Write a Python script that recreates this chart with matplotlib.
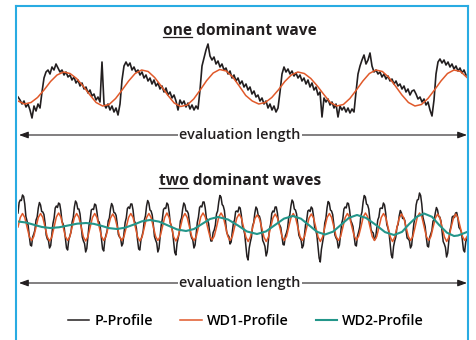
import numpy as np
import matplotlib
matplotlib.use("Agg")
import matplotlib.pyplot as plt
from matplotlib.lines import Line2D

plt.rcParams['font.family'] = ['Open Sans', 'DejaVu Sans']

# evaluation length in mm, heights in um
L = 4.49

# one dominant wave: measured profile and its WD1 fit
top_p = [-8, -11, -15, -12, -18, -15, -21, -29, -17, -22, -15, -19,
         -3, 11, 17, 19, 15, 22, 19, 25, 21, 17, 19, 14, 17, 12, 14, 9, 12, 6,
         9, 3, 6, 0, 2, -4, -1, -7, -5, -11, -8, -13,
         27, -15, -19, -15, -21, -17, -23, -19, -26, -15, 9, 23, 27, 23, 26, 19,
         22, 17, 19, 14, 17, 11, 14, 8, 11, 5, 9, 3, 6, 0, 3, -3, 1, -6, -3, -9,
         -6, -12, -21, -11, -15, -12, -18, -14, -20, -16, -21, -17, -20,
         -1, 23, 31, 39, 45, 33, 29, 32, 25, 28, 22, 25, 19, 21, 15, 18, 11, 14,
         8, 11, 5, 8, 2, 5, -1, 2, -5, -2, -8, -6, -12, -9, -15, -12, -19, -15,
         -21, -17, -23, -19,
         -3, 15, 22, 17, 20, 15, 18, 13, 16, 11, 14, 8, 11, 5, 9, 2, 6, -1, 2, -6,
         -3, -28, -9, -13, -10, -16, -13, -19, -15, -28, -17, -21, -18, -23, -19,
         -24, -20, -23,
         -3, 15, 23, 29, 34, 25, 29, 36, 23, 17, 19, 15, 17, 12, 15, 10, 13, 8, 10,
         5, 8, 3, 5, 0, 3, -3, 0, -6, -2, -1, -5, -10, -8, -13, -10, -16, -13, -21,
         -27, -11,
         15, 27, 30, 26, 29, 24, 27, 22, 25, 20, 23, 18, 21, 16, 19, 14]

top_wd1 = [-12, -15, -13.5, -8.5, -1, 7.5, 14, 17, 15.5, 10.5, 3, -5.5,
           -13.5, -17, -15.5, -9.5, -1, 8, 15.5, 19, 17.5, 11.5, 3, -6,
           -14, -17.5, -16, -10, -1, 8.5, 16, 19.5, 18, 12, 3, -6.5,
           -12, -15, -13.5, -8.5, -1, 7.5, 14, 17, 15.5, 10.5, 3, -5.5,
           -13.5, -17, -15.5, -9.5, -1, 8, 15.5, 19, 17.5, 11.5, 3, -6,
           -13.5, -17, -15.5, -9.5, -1, 8, 15.5, 19, 17.5, 11.5]

# two dominant waves: measured profile, WD1 and WD2 fits
bot_p = [13, 23.5, 26, 25.5, 31, 29.5, 22, 9.5, 5, 0.5, -10, -19, -20, -11, -8, -4,
         6, 9, 18, 23.5, 21, 14.5, 14, 11.5, 3, -9, -13, -14.5, -22, -19.5, -9, 2.5,
         8, 18, 20, 18.5, 23, 22, 15, 4.5, 2, -2, -12, -22, -24, -14, -10, -6,
         4, 8.5, 19, 25, 23, 17, 17, 12, 1, -11, -15, -17.5, -26, -22.5, -11, 1,
         7, 16, 17, 16.5, 22, 21, 14, 5, 4, -1.5, -13, -23, -25, -14, -9, -5,
         5, 8, 17, 22.5, 20, 13.5, 13, 10.5, 2, -8.5, -11, -12.5, -20, -17.5, -7, 3.5,
         8, 17.5, 19, 17.5, 22, 22, 16, 5.5, 3, -2.5, -14, -23, -24, -14, -10, -5,
         6, 10, 20, 25.5, 23, 16, 15, 11, 1, -10.5, -14, -17, -26, -22.5, -11, 1,
         7, 16.5, 18, 17.5, 23, 21.5, 14, 3, 0, -5, -16, -26.5, -29, -17.5, -12, -6.5,
         5, 8, 17, 23, 21, 15, 15, 12.5, 4, -8, -12, -14, -22, -19, -8, 3.5,
         9, 18.5, 20, 19, 24, 24, 18, 8, 6, 2.5, -7, -15, -15, -6.5, -4, 1,
         12, 15, 24, 30.5, 29, 21.5, 20, 15.5, 5, -6, -9, -10.5, -18, -16, -6, 3,
         6, 14.5, 15, 14, 19, 18, 11, 0, -3, -8, -19, -30.5, -34, -22, -16, -11,
         0, 3.5, 13, 19, 17, 10.5, 10, 6, -4, -14.5, -17, -20.5, -30, -26, -14, -3,
         2, 12.5, 15, 14, 19, 19, 13, 3, 1, -1.5, -10, -18.5, -19, -10, -7, -2.5,
         8, 11, 20, 26, 24, 17, 16, 12, 2, -9, -12, -14, -22, -19.5, -9, 1.5,
         6, 15, 16, 14.5, 19, 17.5, 10, -1, -4, -9, -20, -32, -36, -23.5, -17, -10,
         3, 7.5, 18, 24.5, 23, 16, 15, 11.5, 2, -9, -12, -14, -22, -19, -8, 2.5,
         7, 17, 19, 18, 23, 22.5, 16, 5.5, 3, -0.5, -10, -19, -20, -10, -6, -1,
         10, 14, 24, 30.5, 29, 22, 21, 17, 7, -3.5, -6, -7, -14, -12.5, -3, 6,
         9, 17.5, 18, 17.5, 23, 21, 13, 1.5, -2, -7, -18, -29, -32, -20.5, -15, -11,
         -1, 1.5, 10, 15.5, 13, 7.5, 8, 5.5, -3, -12, -13, -14.5, -22, -19.5, -9, 2.5,
         8, 21, 26, 26.5, 33, 30.5, 22, 9, 4, -0.5, -11, -20, -21, -11.5, -8, -4.5,
         5, 6, 13, 18.5, 16, 9.5, 9, 5, -5, -15.5, -18, -21.5, -31, -27, -15, -4.5,
         0, 9, 10, 8.5, 13, 13.5, 8, -1.5, -3, -5.5, -14, -24, -26, -16, -12, -14]

bot_wd1 = [-1, 8.5, 12.5, 8.5, -1, -10.5, -14.5, -10.5,
           -1, 8.5, 12.5, 8.5, -1.5, -11, -15, -11,
           -1, 9, 13, 9, -1, -10.5, -14.5, -10.5,
           -1, 8.5, 12.5, 8.5, -1, -11, -15, -10.5,
           -1, 8.5, 12.5, 8.5, -1, -10.5, -14.5, -10.5,
           -1, 8, 12, 8, -1, -10.5, -14.5, -10.5,
           -1, 8.5, 12.5, 8.5, -1, -11, -15, -11,
           -1, 8.5, 12.5, 8.5, -1, -10.5, -14.5, -10.5,
           -1, 8.5, 13, 8.5, -1, -11, -15, -10.5,
           -1, 8.5, 12.5, 8.5, -1, -10.5, -14.5, -10.5,
           -1, 9, 13, 9, -1, -10, -14, -10,
           -1, 9, 13, 9, -1, -10.5, -14.5, -10.5,
           -1, 8, 12, 8, -1.5, -11, -15.5, -11,
           -1.5, 7.5, 11, 7.5, -1.5, -11, -15.5, -11,
           -1, 8, 12, 8, -1, -10.5, -14.5, -10.5,
           -1, 8.5, 12.5, 8.5, -1, -10.5, -14.5, -10.5,
           -1, 8, 12, 8, -1.5, -11, -15.5, -11,
           -1, 8.5, 12.5, 8.5, -1, -10.5, -14.5, -10.5,
           -1, 8.5, 12.5, 8.5, -1, -10, -14, -10,
           -1, 9, 13, 9, -1, -10.5, -14.5, -10.5,
           -1, 8.5, 12.5, 8.5, -1.5, -11, -15.5, -11,
           -1, 8, 12, 8, -1, -10.5, -14.5, -10.5,
           -1, 9, 13, 9, -1, -10.5, -14.5, -10.5,
           -1, 8, 12, 8, -1.5, -11, -15.5, -11,
           -1, 8, 12, 8, -1, -10.5, -14.5, -10.5]

wd2_x = [0.00, 0.08, 0.16, 0.24, 0.32, 0.41, 0.50, 0.59, 0.68,
         0.76, 0.84, 0.91, 0.99, 1.07, 1.16, 1.24, 1.32,
         1.41, 1.50, 1.59, 1.68, 1.76, 1.84, 1.92, 2.00,
         2.10, 2.20, 2.29, 2.39, 2.48, 2.57, 2.66, 2.75,
         2.83, 2.91, 2.99, 3.07, 3.15, 3.23, 3.31, 3.39,
         3.48, 3.58, 3.67, 3.76, 3.84, 3.91, 3.99, 4.06,
         4.14, 4.21, 4.29, 4.36, 4.40, 4.44, 4.49]
wd2_h = [4.5, 3.5, 1.2, -1.0, -2.0, -1.3, 0.5, 2.3, 3.0,
         2.1, 0.0, -2.1, -3.0, -1.7, 1.5, 4.7, 6.0,
         4.4, 0.5, -3.4, -5.0, -3.0, 2.0, 7.0, 9.0,
         6.5, 0.5, -5.5, -8.0, -5.4, 1.0, 7.4, 10.0,
         7.3, 0.8, -5.8, -8.5, -5.7, 1.2, 8.2, 11.0,
         8.1, 1.0, -6.1, -9.0, -5.9, 1.8, 9.4, 12.5,
         9.2, 1.2, -6.7, -10.0, -9.5, -8.0, -6.0]

labels = ["P-Profile", "WD1-Profile", "WD2-Profile"]
c_p, c_wd1, c_wd2 = '#231f20', '#e0592a', '#23968a'
c_frame = '#29abe2'

W, H = 477, 340
fig = plt.figure(figsize=(W / 100, H / 100), dpi=100)

ax1 = fig.add_axes([18 / W, 1 - 125 / H, 449 / W, 85 / H])
ax1.plot(np.linspace(0, 4.48, len(top_p)), top_p, color=c_p, lw=1.2)
ax1.plot(np.linspace(0, L, len(top_wd1)), top_wd1, color=c_wd1, lw=1.1)
ax1.set_xlim(0, L)
ax1.set_ylim(-36, 49)
ax1.axis('off')

ax2 = fig.add_axes([18 / W, 1 - 265 / H, 449 / W, 75 / H])
lp, = ax2.plot(np.linspace(0, 4.50, len(bot_p)), bot_p, color=c_p, lw=1.1)
l1, = ax2.plot(np.linspace(0, L, len(bot_wd1)), bot_wd1, color=c_wd1, lw=1.1)
l2, = ax2.plot(wd2_x, wd2_h, color=c_wd2, lw=1.5)
ax2.set_xlim(0, L)
ax2.set_ylim(-39, 36)
ax2.axis('off')

# frame (left, top, right)
ytop = 1 - 5.5 / H
for xs, ys in [([16.5 / W] * 2, [0, ytop]), ([468.5 / W] * 2, [0, ytop]),
               ([16.5 / W, 468.5 / W], [ytop, ytop])]:
    fig.add_artist(Line2D(xs, ys, transform=fig.transFigure, color=c_frame, lw=1.5))

# titles
t1 = fig.text(240 / W, 1 - 35 / H, "one dominant wave", ha='center', va='baseline',
              fontsize=11.2, fontweight='bold', color='#231f20')
t2 = fig.text(240 / W, 1 - 185.5 / H, "two dominant waves", ha='center', va='baseline',
              fontsize=11.2, fontweight='bold', color='#231f20')

# evaluation length arrows
for ax, ypx in [(ax1, 135), (ax2, 283)]:
    ax.annotate('', xy=(0.01, 1 - ypx / H), xytext=(L, 1 - ypx / H),
                xycoords=('data', 'figure fraction'), textcoords=('data', 'figure fraction'),
                arrowprops=dict(arrowstyle='<|-|>,head_length=0.55,head_width=0.2',
                                color='#231f20', lw=0.8, shrinkA=0, shrinkB=0),
                annotation_clip=False)
    fig.text(240 / W, 1 - (ypx + 4) / H, "evaluation length", ha='center', va='baseline',
             fontsize=10.4, fontweight='semibold', color='#231f20',
             bbox=dict(fc='white', ec='none', pad=1.2))

fig.legend([lp, l1, l2], labels, loc='center', bbox_to_anchor=(246 / W, 1 - 321 / H),
           ncol=3, frameon=False, handlelength=1.5, handletextpad=0.35,
           columnspacing=1.9, prop={'size': 10.3, 'weight': 'semibold'})

# underline "one" and "two"
fig.canvas.draw()
r = fig.canvas.get_renderer()
for t, word in [(t1, 'one'), (t2, 'two')]:
    bb = t.get_window_extent(r)
    tmp = fig.text(0, 0, word, fontproperties=t.get_fontproperties())
    w = tmp.get_window_extent(r).width
    tmp.remove()
    yb = t.get_position()[1] - 2.2 / H
    fig.add_artist(Line2D([bb.x0 / W, (bb.x0 + w) / W], [yb, yb],
                          transform=fig.transFigure, color='#231f20', lw=0.9))

fig.savefig("out.png", dpi=100)
